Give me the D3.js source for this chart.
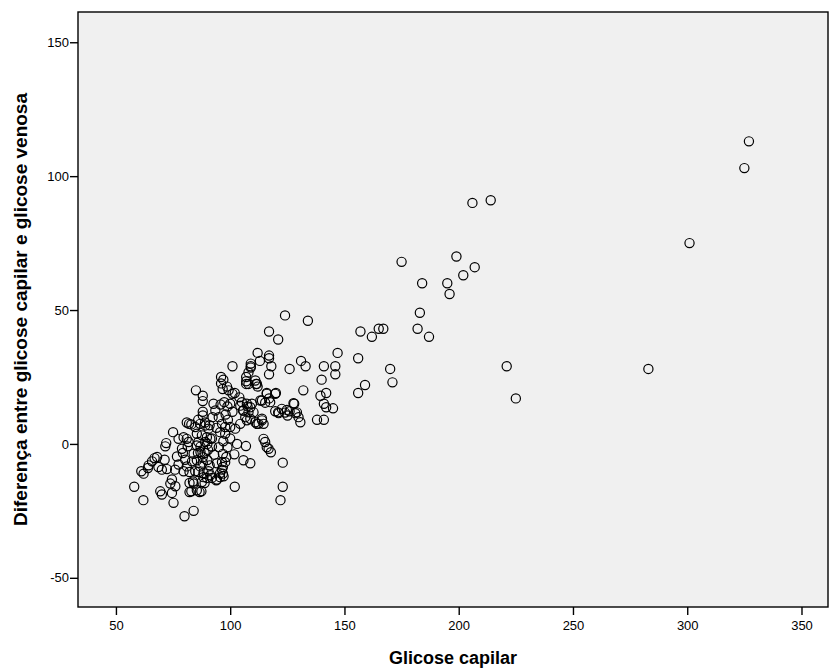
<!DOCTYPE html>
<html>
<head>
<meta charset="utf-8">
<script src="https://cdn.jsdelivr.net/npm/d3@7"></script>
<style>
  body { margin: 0; background: #fff; }
  svg text { font-family: "Liberation Sans", Arial, sans-serif; }
</style>
</head>
<body>
<div id="chart"></div>
<script>
// Tick values
const xTicks = [50, 100, 150, 200, 250, 300, 350];
const yTicks = [-50, 0, 50, 100, 150];

// Glicose capilar / diferença
const outlierPoints = [
    [327, 113], [325, 103], [301, 75], [283, 28],
    [206, 90], [214, 91], [175, 68], [199, 70], [207, 66], [202, 63], [184, 60], [195, 60], [196, 56],
    [183, 49], [182, 43], [187, 40], [221, 29], [225, 17]
];

const upperPoints = [
    [124, 48], [134, 46], [117, 42], [121, 39], [157, 42], [162, 40], [165, 43], [167, 43],
    [147, 34], [156, 32], [170, 28], [171, 23], [159, 22], [156, 19], [131, 31], [133, 29],
    [126, 28], [141, 29], [146, 29], [146, 26], [140, 24], [132, 20], [142, 19], [139.5, 18],
    [128, 15], [141, 15], [142, 13.7], [145, 13.3], [138, 9], [141, 9],
    [117, 33], [117, 32], [118, 29], [117, 26], [112, 34], [113, 31], [116, 19], [120, 19], [117, 17]
];

const middlePoints = [
    [96, 25], [97, 24], [96, 22.6], [98.6, 21.4], [96.7, 20.5], [99.3, 20], [102, 19], [101, 18.7],
    [104, 17.4], [95.8, 14.7], [97.4, 15.6], [98.8, 14], [100, 15], [93.5, 12.5], [96.4, 7.5],
    [97.8, 6.3], [100, 6.3], [102.2, 5.7], [95.6, 4.4], [97.8, 3.8], [92.7, 15], [92.3, 10],
    [95, 10], [98, 11], [101, 12], [99, 9], [94, 6], [100, 2], [97, 1], [103, 0],
    [95, -1.2], [98.8, -1.2], [96.8, -3.7], [98.3, -4.9], [101.8, -3.9],
    [101, 29], [109, 30], [109, 29], [109, 28.5], [107, 25], [107, 23.4], [107, 22.4],
    [111.3, 22.4], [112, 21.4], [108, 26.7], [108, 22.4], [111.7, 22.4], [111, 23.7],
    [104.4, 14.3], [105.6, 12.5], [107.6, 14], [108.8, 13.7], [113.2, 16.2], [115.3, 15.4],
    [105.1, 15.6], [107.3, 15], [109.5, 15], [105.8, 12.5], [108, 11.8], [110.2, 11.8],
    [106.6, 10], [108.8, 9.4], [111, 8.1], [112.4, 7.5], [113.9, 9.4], [114.6, 7.5],
    [114.6, 1.9], [115.3, 0.7], [104.4, 7.5], [107.3, 8.8], [111.7, 7.5], [113.9, 8.8],
    [106.9, -0.8], [105.8, -6.1], [108.8, -7.2], [116, -1.2], [116.8, -1.8], [117.8, -3.1],
    [102, -16], [121, 11.8], [122.6, 13.1], [124, 11.7], [125.1, 10.6], [126, 12.2],
    [129.2, 11.8], [129.9, 10], [127.7, 15.2], [124.8, 12.7], [128.5, 11.5], [130.7, 8.1],
    [119.7, 12.2], [121.2, 11.5], [119.7, 18.7], [117.5, 15.6], [113.9, 16.2], [116, 18.7],
    [123, -7], [123, -16], [122, -21]
];

const lowerPoints = [
    [85, 20], [88, 18], [88, 16], [88, 12], [88, 10.6], [81, 8], [82, 7.5], [83, 7.3],
    [75, 4.4], [72, 0.3], [77.4, 1.9], [79.6, 2.5], [81, 1.9], [81.8, 0.7],
    [84.7, 6.3], [86.9, 7.5], [89.1, 6.9], [90.5, 5.7], [85.4, 3.8], [87.6, 3.2], [89.8, 2.5],
    [91.3, 1.9], [86.1, 0.7], [89.1, 0.7], [86, 9], [89, 8], [91, 7], [92, 2], [90, 0], [87, -1],
    [58, -16], [62, -21], [80, -27], [84, -25],
    [61.1, -10.2], [64, -9], [66.9, -5.3], [65.8, -6.5], [68.6, -8.6], [71.3, -5.9],
    [72.3, -9.4], [70.1, -9.6], [69.4, -17.7], [70.1, -18.9], [74.5, -18.3], [75.2, -22],
    [76, -15.8], [74.5, -13.3], [73.8, -14.8], [62.1, -11.1], [64.3, -8], [68, -4.9],
    [71.6, -0.9], [76.7, -4.7], [77.4, -7.7], [75.9, -9.6], [79.6, -10.2], [81, -8.4],
    [80.3, -5.9], [83.3, -6.5], [84.7, -10.2], [86.9, -8.4], [88.3, -10.9], [89.8, -12.7],
    [90.5, -10.2], [92, -12.7], [82.2, -14.6], [83.7, -14], [83, -17.7], [87.4, -17.7],
    [88.8, -14.6], [85.9, -3.4], [88.8, -3.4], [90.3, -2.2], [79.3, -3.4], [81.4, -0.9],
    [78.9, -1.8], [84, -3.7], [85.4, -6.1], [85.4, -0.6],
    [87, -3], [88, -5], [90, -6], [88, -7], [91, -8], [93, -4], [92, -1],
    [94.2, -7.2], [96.4, -6.8], [96.8, -8.6], [97.8, -6.8],
    [82.2, -10.5], [86.1, -10.5], [88.3, -12.4], [91.3, -11.7], [93.9, -13.6], [95.6, -12.4],
    [96.8, -11.1], [82.2, -18], [86.6, -18], [87.6, -14.2], [94.2, -13.3], [95.6, -10.9],
    [97.1, -12.1], [96.4, -9.6], [85.4, -17.3], [84, -14.8]
];

const points = [...outlierPoints, ...upperPoints, ...middlePoints, ...lowerPoints];

const W = 829, H = 670;
const margin = { top: 12, right: 1, bottom: 63, left: 78 };
const width = W - margin.left - margin.right;
const height = H - margin.top - margin.bottom;

const svg = d3.select('#chart')
    .append('svg')
    .attr('width', W)
    .attr('height', H);

const g = svg.append('g')
    .attr('transform', `translate(${margin.left},${margin.top})`);

const x = d3.scaleLinear().domain([33.4, 361.6]).range([0, width]);
const y = d3.scaleLinear().domain([-60.9, 161.3]).range([height, 0]);

// plot background
g.append('rect')
    .attr('width', width)
    .attr('height', height)
    .attr('fill', '#f0f0f0');

// points
g.selectAll('.dot')
    .data(points)
    .enter()
    .append('circle')
    .attr('class', 'dot')
    .attr('cx', d => x(d[0]))
    .attr('cy', d => y(d[1]))
    .attr('r', 4.6)
    .attr('fill', 'none')
    .attr('stroke', '#000')
    .attr('stroke-width', 1.2);

// frame
g.append('rect')
    .attr('width', width)
    .attr('height', height)
    .attr('fill', 'none')
    .attr('stroke', '#000')
    .attr('stroke-width', 1.4);

// axes (plain hyphen for negatives, like the original)
const fmt = d => String(d);
const xAxis = g.append('g')
    .attr('transform', `translate(0,${height})`)
    .call(d3.axisBottom(x).tickValues(xTicks).tickFormat(fmt).tickSize(8).tickSizeOuter(0));

const yAxis = g.append('g')
    .call(d3.axisLeft(y).tickValues(yTicks).tickFormat(fmt).tickSize(8).tickSizeOuter(0));

[xAxis, yAxis].forEach(a => {
    a.select('.domain').remove();
    a.selectAll('.tick line').attr('stroke', '#000').attr('stroke-width', 1.4);
    a.selectAll('.tick text')
        .attr('fill', '#000')
        .style('font-size', '13px')
        .style('font-family', '"Liberation Sans", Arial, sans-serif');
});
xAxis.selectAll('.tick text').attr('dy', '0.95em');
yAxis.selectAll('.tick text').attr('x', -9);

// axis titles
svg.append('text')
    .attr('x', margin.left + width / 2)
    .attr('y', 664)
    .attr('text-anchor', 'middle')
    .style('font-size', '18px')
    .style('font-weight', 'bold')
    .text('Glicose capilar');

svg.append('text')
    .attr('transform', `translate(27,${margin.top + height / 2}) rotate(-90)`)
    .attr('text-anchor', 'middle')
    .style('font-size', '19px')
    .style('font-weight', 'bold')
    .text('Diferença entre glicose capilar e glicose venosa');
</script>
</body>
</html>
